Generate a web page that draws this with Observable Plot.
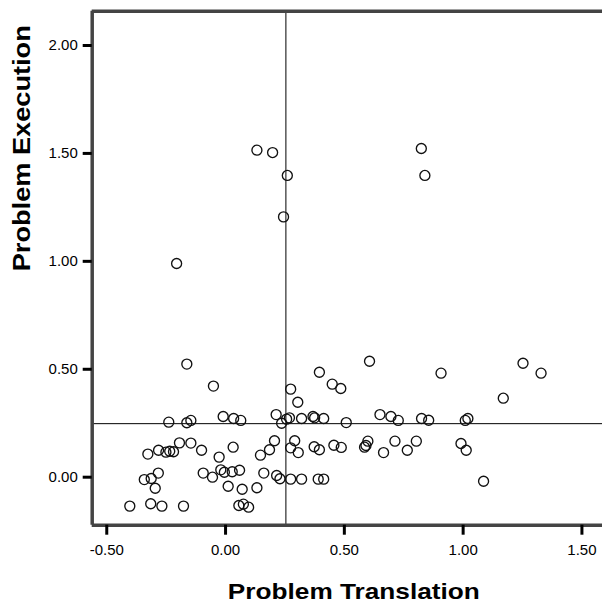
<!DOCTYPE html>
<html>
<head>
<meta charset="utf-8">
<script src="https://cdn.jsdelivr.net/npm/d3@7"></script>
<script src="https://cdn.jsdelivr.net/npm/@observablehq/plot@0.6"></script>
<style>
  html, body { margin: 0; padding: 0; background: #fff; overflow: hidden; }
  #wrap { width: 602px; height: 605px; overflow: hidden; }
</style>
</head>
<body>
<div id="wrap"></div>
<script>
// Problem Translation (x) and Problem Execution (y) for each respondent
const translation = [
  0.132, 0.198, 0.260, 0.244, -0.206, 0.824, 0.839,
  -0.163, -0.051, -0.239, -0.163, -0.146, -0.010, 0.034, 0.064, 0.213, 0.236,
  0.257, 0.269, 0.274, 0.304, 0.320, 0.368, 0.375, 0.413, 0.395, 0.449, 0.485, 0.508,
  -0.194, -0.146, -0.101, -0.327, -0.282, -0.251, -0.235, -0.219, 0.032, -0.027,
  0.206, 0.185, 0.147, 0.291, 0.274, 0.306, 0.373, 0.395, 0.456, 0.487,
  -0.342, -0.313, -0.283, -0.296, -0.094, -0.055, -0.020, -0.005, 0.028, 0.059,
  0.011, 0.070, 0.132, 0.161, 0.215, 0.229, 0.274, 0.320, 0.390, 0.413,
  -0.403, -0.315, -0.268, -0.177, 0.056, 0.075, 0.097,
  0.606, 0.907, 1.252, 1.328, 1.169, 0.650, 0.696, 0.727, 0.825, 0.855, 1.009, 1.020,
  0.585, 0.599, 0.591, 0.665, 0.713, 0.765, 0.803, 0.991, 1.013, 1.086
];
const execution = [
  1.515, 1.504, 1.398, 1.206, 0.990, 1.523, 1.398,
  0.524, 0.422, 0.255, 0.252, 0.263, 0.281, 0.272, 0.263, 0.290, 0.250,
  0.269, 0.275, 0.408, 0.347, 0.272, 0.281, 0.275, 0.272, 0.486, 0.431, 0.411, 0.253,
  0.159, 0.158, 0.125, 0.107, 0.125, 0.116, 0.120, 0.118, 0.139, 0.093,
  0.169, 0.127, 0.102, 0.169, 0.136, 0.114, 0.141, 0.127, 0.148, 0.138,
  -0.011, -0.006, 0.019, -0.051, 0.019, 0.000, 0.034, 0.023, 0.025, 0.032,
  -0.042, -0.056, -0.049, 0.019, 0.008, -0.007, -0.009, -0.009, -0.009, -0.009,
  -0.134, -0.123, -0.134, -0.134, -0.131, -0.125, -0.139,
  0.537, 0.482, 0.528, 0.482, 0.366, 0.290, 0.281, 0.263, 0.272, 0.264, 0.263, 0.272,
  0.139, 0.167, 0.147, 0.114, 0.167, 0.125, 0.167, 0.156, 0.125, -0.019
];
const meanTranslation = [0.254];
const meanExecution = [0.248];
const xTicks = [-0.5, 0, 0.5, 1.0, 1.5];
const yTicks = [0, 0.5, 1.0, 1.5, 2.0];
const xDomain = [-0.5613, 1.6413];
const yDomain = [-0.2224, 2.1584];
const xTitle = "Problem Translation";
const yTitle = "Problem Execution";

const data = translation.map((t, i) => ({translation: t, execution: execution[i]}));
const fmt = d => d.toFixed(2);
const frameColor = "#444";

const chart = Plot.plot({
  width: 615,
  height: 605,
  marginLeft: 91.7,
  marginRight: 0,
  marginTop: 10.8,
  marginBottom: 80.3,
  style: {maxWidth: "none", fontFamily: "'Liberation Sans', Arial, sans-serif", background: "#fff", color: "#000"},
  x: {domain: xDomain},
  y: {domain: yDomain},
  marks: [
    Plot.ruleX(meanTranslation, {stroke: "#000", strokeWidth: 1}),
    Plot.ruleY(meanExecution, {stroke: "#000", strokeWidth: 1}),
    Plot.dot(data, {x: "translation", y: "execution", r: 5, fill: "none", stroke: "#111", strokeWidth: 1.35}),
    Plot.ruleX([xDomain[0]], {stroke: frameColor, strokeWidth: 3.5}),
    Plot.ruleY([yDomain[0]], {stroke: frameColor, strokeWidth: 3.5}),
    Plot.ruleY([yDomain[1]], {stroke: frameColor, strokeWidth: 3.5}),
    Plot.axisX({ticks: xTicks, tickFormat: fmt, tickSize: 10, tickPadding: 9.5, strokeWidth: 3, fontSize: 15, label: null}),
    Plot.axisY({ticks: yTicks, tickFormat: fmt, tickSize: 9, tickPadding: 5.4, strokeWidth: 3, fontSize: 15, label: null}),
    Plot.text([xTitle], {frameAnchor: "bottom", dy: 73.3, lineAnchor: "bottom", fontSize: 22, fontWeight: "bold", fill: "#000"}),
    Plot.text([yTitle], {frameAnchor: "left", rotate: -90, dx: -78.4, dy: 3, lineAnchor: "top", fontSize: 23, fontWeight: "bold", fill: "#000"})
  ]
});

d3.select(chart).selectAll("text").each(function() {
  const t = this.textContent;
  if (t === xTitle) { this.setAttribute("textLength", 252); this.setAttribute("lengthAdjust", "spacingAndGlyphs"); }
  if (t === yTitle) { this.setAttribute("textLength", 246); this.setAttribute("lengthAdjust", "spacingAndGlyphs"); }
});

document.getElementById("wrap").appendChild(chart);
</script>
</body>
</html>
